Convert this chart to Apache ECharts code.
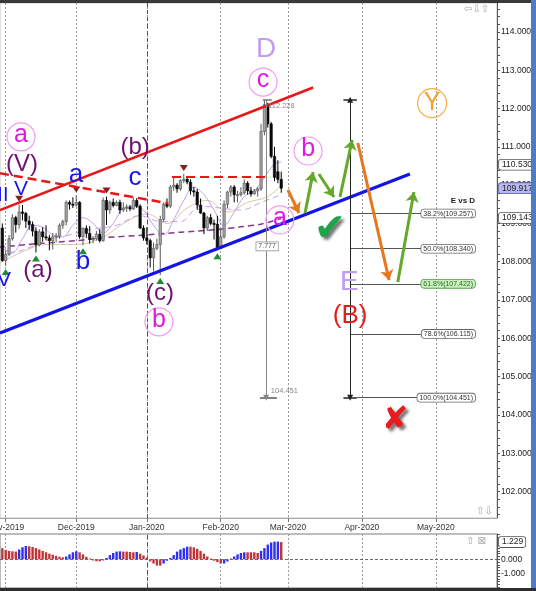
<!DOCTYPE html>
<html><head><meta charset="utf-8">
<script src="https://cdn.jsdelivr.net/npm/echarts@6/dist/echarts.min.js"></script>
<style>html,body{margin:0;padding:0;background:#fff}#c{width:536px;height:591px}</style>
</head><body><div id="c"></div>
<script>
// ---------------- DATA ----------------
const monthNames  = ['Nov-2019','Dec-2019','Jan-2020','Feb-2020','Mar-2020','Apr-2020','May-2020'];
const monthStarts = [0, 21, 42, 64, 84, 106, 128];        // trading-day index of each month start
const firstBar = -1;                                       // index of the first candle (31 Oct 2019)
const opens  = [108.88,108.03,108.19,108.60,109.15,108.97,109.30,109.26,109.06,108.97,108.80,108.44,108.78,108.65,108.62,108.55,108.65,108.67,108.95,109.05,109.55,109.50,109.48,109.55,108.65,108.87,108.74,108.58,108.60,108.72,108.55,109.60,109.35,109.55,109.47,109.55,109.35,109.40,109.42,109.38,109.60,109.45,108.88,108.62,108.55,108.10,108.35,108.45,109.10,109.50,109.45,109.95,110.00,109.90,110.12,110.15,110.08,109.85,109.82,109.48,109.27,108.88,109.15,109.00,108.98,108.35,108.65,109.50,109.82,109.95,109.75,109.75,109.80,110.05,109.85,109.77,109.85,109.90,111.40,112.10,111.60,110.75,110.35,110.15];
const highs  = [109.00,108.30,108.70,109.24,109.20,109.49,109.48,109.30,109.20,109.05,108.90,108.85,108.90,108.95,108.70,108.75,108.75,109.00,109.10,109.60,109.60,109.68,109.73,109.58,108.90,108.95,108.93,108.67,108.80,108.85,109.68,109.70,109.60,109.65,109.60,109.62,109.55,109.50,109.48,109.68,109.66,109.50,108.95,108.90,108.60,108.50,108.60,109.20,109.55,109.65,110.00,110.20,110.05,110.15,110.29,110.20,110.15,109.95,109.90,109.65,109.30,109.20,109.25,109.10,109.20,108.85,109.60,109.85,110.00,110.00,109.85,109.95,110.15,110.10,109.95,109.90,109.95,111.60,112.228,112.15,111.65,111.00,110.65,110.35];
const lows   = [108.00,107.89,108.15,108.55,108.76,108.86,109.08,108.88,108.83,108.66,108.24,108.40,108.52,108.56,108.30,108.32,108.50,108.60,108.86,108.95,109.36,109.40,109.44,108.60,108.43,108.62,108.47,108.48,108.55,108.50,108.52,108.96,109.25,109.42,109.45,109.25,109.30,109.30,109.32,109.35,109.40,108.85,108.55,108.45,107.85,107.75,108.30,107.65,109.05,109.40,109.40,109.85,109.80,109.85,110.05,110.02,109.75,109.70,109.35,109.25,108.72,108.80,108.95,108.58,108.30,108.35,108.60,109.40,109.70,109.55,109.55,109.70,109.75,109.75,109.70,109.75,109.70,109.85,111.30,111.50,110.70,110.10,110.05,109.80];
const closes = [108.03,108.19,108.60,109.15,108.97,109.30,109.26,109.06,108.97,108.80,108.44,108.78,108.65,108.62,108.55,108.65,108.67,108.95,109.05,109.55,109.50,109.48,109.55,108.65,108.87,108.74,108.58,108.60,108.72,108.55,109.60,109.35,109.55,109.47,109.55,109.35,109.40,109.42,109.38,109.60,109.45,108.88,108.62,108.55,108.10,108.35,108.45,109.10,109.50,109.45,109.95,110.00,109.90,110.12,110.15,110.08,109.85,109.82,109.48,109.27,108.88,109.15,109.00,108.98,108.35,108.65,109.50,109.82,109.95,109.75,109.75,109.80,110.05,109.85,109.77,109.85,109.90,111.40,112.10,111.60,110.75,110.20,110.15,109.92];

// oscillator histogram (lower pane), one value per candle; 1 = blue (rising), 0 = red (falling)
const histValues = [0.79,0.67,0.60,0.57,0.55,0.70,0.86,0.95,0.93,0.88,0.80,0.70,0.60,0.50,0.40,0.33,0.25,0.18,0.14,0.20,0.35,0.50,0.57,0.50,0.35,0.18,0.05,-0.08,-0.14,-0.14,-0.08,0.10,0.30,0.45,0.55,0.57,0.55,0.55,0.52,0.50,0.52,0.40,0.28,0.12,-0.15,-0.30,-0.45,-0.45,-0.30,-0.10,0.10,0.30,0.55,0.70,0.80,0.90,0.90,0.85,0.75,0.60,0.40,0.20,0.05,-0.10,-0.20,-0.30,-0.30,-0.15,0.05,0.20,0.35,0.45,0.50,0.50,0.50,0.50,0.45,0.60,0.80,1.05,1.20,1.26,1.26,1.229];
const histRising = [0,0,0,0,0,1,1,1,0,0,0,0,0,0,0,0,0,0,0,1,1,1,1,0,0,0,0,0,0,0,1,1,1,1,1,1,0,0,0,0,1,0,0,0,0,0,0,0,1,1,1,1,1,1,1,1,0,0,0,0,0,0,0,0,0,0,1,1,1,1,1,1,1,0,0,0,0,1,1,1,1,1,1,0];

// moving averages: [barIndex, price]
const maFast = [[-2,108.40],[2,108.25],[5,108.60],[8,108.95],[11,108.90],[14,108.70],[17,108.65],[20,108.95],[23,109.15],[26,109.00],[29,108.75],[32,109.00],[35,109.40],[38,109.45],[41,109.35],[44,108.95],[47,108.70],[50,109.10],[53,109.60],[56,109.95],[59,109.75],[62,109.35],[65,108.95],[68,109.30],[71,109.70],[74,109.85],[77,110.20],[80,110.55],[82,110.60]];
const maMid  = [[-2,108.15],[5,108.30],[12,108.55],[19,108.70],[26,108.85],[33,108.95],[40,109.20],[46,109.05],[52,109.05],[58,109.45],[64,109.40],[70,109.35],[76,109.55],[82,109.75]];
const maSlow = [[-2,108.38],[8,108.46],[21,108.55],[28,108.62],[42,108.70],[52,108.77],[63,108.84],[70,108.91],[76,108.98],[82,109.13]];
const maTan  = [[-2,107.95],[6,108.30],[12,108.45],[20,108.45],[28,108.60],[36,109.05],[42,109.25],[48,109.00],[54,109.40],[60,109.60],[66,109.30],[72,109.55],[78,109.70],[82,110.00]];

// axis ticks
const priceTicks = [102,103,104,105,106,107,108,109,110,111,112,113,114];
const oscTicks   = [-1, 0, 1];
const priceTags  = [110.530, 109.917, 109.143];
const oscTag     = 1.229;

// swing markers [barIndex, price]
const swingLows  = [[0,107.89],[9,108.24],[23,108.43],[46,107.65],[63,108.30]];
const swingHighs = [[4,109.49],[21,109.73],[30,109.70],[53,110.29]];

// fibonacci (E vs D)
const swingTop = 112.228, swingBottom = 104.451;
const fibNames  = ['38.2%','50.0%','61.8%','78.6%','100.0%'];
const fibValues = [109.257,108.340,107.422,106.115,104.451];

// trend lines [i1,p1,i2,p2]
const redTrend    = [-1.696,109.35,91.5,112.548];
const redDashed   = [-1.696,110.308,48.4,109.525];
const redFlat     = [49.5,110.23,78.7,110.23];
const blueTrend   = [-1.696,106.14,120.3,110.29];
// projected path arrows [i1,p1,i2,p2]
const orangeArrows = [[84.0,109.872,87.3,109.272],[104.8,111.10,114.1,107.52]];
const greenArrows  = [[89.1,109.27,91.5,110.34],[93.2,110.29,97.7,109.69],[99.5,109.69,103.1,111.18],[116.7,107.47,121.5,109.82]];
// measuring tools (bar index of the vertical)
const measureA = 77.5, measureB = 102.5;

// wave labels [barIndex, price, text]
const circledMagenta = [[4.55,111.26,'a'],[45.6,106.43,'b'],[76.6,112.69,'c'],[90.0,110.89,'b'],[81.6,109.09,'a']];
const circledOrange  = [[126.9,112.14,'Y']];
const purpleLabels   = [[4.85,110.53,'(V)'],[9.6,107.78,'(a)'],[38.5,110.99,'(b)'],[45.9,107.18,'(c)']];
const blueLabels     = [[20.9,110.21,'a'],[23.0,107.94,'b'],[38.5,110.13,'c']];
const blueCaps       = [[4.55,109.90,'V'],[-0.5,107.52,'V']];
const lavenderLabels = [[77.5,113.54,'D'],[102.3,107.47,'E']];
const redLabels      = [[102.5,106.58,'(B)']];

// ---------------- CHART ----------------
const X_MIN = -1.696, X_MAX = 146.22;
const candleData = opens.map((o, k) => [firstBar + k, o, highs[k], lows[k], closes[k]]);
const histData = histValues.map((v, k) => ({value: [firstBar + k, v], itemStyle: {color: histRising[k] ? '#2f2ff2' : '#c23434'}}));
const minorPriceTicks = []; for (let t = 101.4; t < 114.75; t += 0.2) minorPriceTicks.push(+t.toFixed(1));
const minorOscTicks = []; for (let t = -2.0; t < 1.8; t += 0.2) minorOscTicks.push(+t.toFixed(1));

const FONT = 'Liberation Sans, Arial, sans-serif';
const TRANSP = 'rgba(0,0,0,0)';

function seg(a, style) { return {coords: [[a[0], a[1]], [a[2], a[3]]], lineStyle: Object.assign({opacity: 1, curveness: 0}, style)}; }
function labelSeries(items, style, extra) {
  return Object.assign({
    type: 'scatter', z: 20, silent: true, symbolSize: 1, itemStyle: {color: TRANSP, opacity: 1},
    data: items.map(a => ({value: [a[0], a[1]], label: Object.assign({show: true, position: 'inside', formatter: a[2]}, style)}))
  }, extra || {});
}

const fibLabelItems = fibNames.map((n, k) => [139.7, fibValues[k], n + '(' + fibValues[k].toFixed(3) + ')']);
const fibBox = {fontSize: 7, color: '#333', fontFamily: FONT, backgroundColor: '#fff', borderColor: '#666', borderWidth: 0.8, borderRadius: 3, padding: [1, 2, 0, 2], align: 'right'};

function tag(v, text, fill, border) {
  return {yAxis: v, lineStyle: {color: TRANSP, width: 1, opacity: 1}, label: {show: true, position: 'end', distance: 2, formatter: text, fontSize: 8.5, fontFamily: FONT, color: '#222', backgroundColor: fill, borderColor: border, borderWidth: 0.8, borderRadius: 2, padding: [1, 2, 0, 3]}};
}

const option = {
  animation: false,
  backgroundColor: '#fff',
  grid: [
    {left: 0, right: 39, top: 3, bottom: 73, show: true, borderColor: '#c4c4c4', borderWidth: 1, containLabel: false, outerBoundsMode: 'none'},
    {left: 0, right: 39, top: 534, bottom: 3, show: true, borderColor: '#7a7a7a', borderWidth: 1, containLabel: false, outerBoundsMode: 'none'}
  ],
  xAxis: [
    {gridIndex: 0, type: 'value', min: X_MIN, max: X_MAX, position: 'bottom',
     axisLine: {show: true, onZero: false, lineStyle: {color: '#a8a8a8'}},
     axisTick: {show: true, customValues: monthStarts, length: 4, lineStyle: {color: '#777'}},
     axisLabel: {show: true, customValues: monthStarts, formatter: v => monthNames[monthStarts.indexOf(Math.round(v))], fontSize: 8.5, fontFamily: FONT, color: '#333', margin: 5},
     splitLine: {show: true, lineStyle: {color: '#9a9a9a', type: [2, 2], width: 1}}},
    {gridIndex: 1, type: 'value', min: X_MIN, max: X_MAX,
     axisLine: {show: false}, axisTick: {show: false, customValues: monthStarts}, axisLabel: {show: false},
     splitLine: {show: true, lineStyle: {color: '#9a9a9a', type: [2, 2], width: 1}}}
  ],
  yAxis: [
    {gridIndex: 0, type: 'value', position: 'right', min: 101.308, max: 114.755,
     axisLine: {show: true, onZero: false, lineStyle: {color: '#555'}},
     axisTick: {show: true, customValues: minorPriceTicks, length: 3, lineStyle: {color: '#555'}},
     axisLabel: {show: true, customValues: priceTicks, formatter: v => v.toFixed(3), fontSize: 8.5, fontFamily: FONT, color: '#222', margin: 4},
     splitLine: {show: false}},
    {gridIndex: 1, type: 'value', position: 'right', min: -2.05, max: 1.807,
     axisLine: {show: true, onZero: false, lineStyle: {color: '#555'}},
     axisTick: {show: true, customValues: minorOscTicks, length: 3, lineStyle: {color: '#555'}},
     axisLabel: {show: true, customValues: oscTicks, formatter: v => v.toFixed(3), fontSize: 8.5, fontFamily: FONT, color: '#222', margin: 4},
     splitLine: {show: false}}
  ],
  series: [
    // moving averages
    {type: 'line', data: maTan, showSymbol: false, smooth: 0.4, silent: true, lineStyle: {color: '#d8c89c', width: 1}, z: 1},
    {type: 'line', data: maMid, showSymbol: false, smooth: 0.4, silent: true, lineStyle: {color: '#c29ff0', width: 1, type: [6, 4]}, z: 1},
    {type: 'line', data: maFast, showSymbol: false, smooth: 0.4, silent: true, lineStyle: {color: '#c29ff0', width: 1}, z: 1},
    {type: 'line', data: maSlow, showSymbol: false, smooth: 0.3, silent: true, lineStyle: {color: '#87358c', width: 1.5, type: [6, 4]}, z: 1},
    // candles
    {type: 'custom', data: candleData, encode: {x: 0, y: [1, 2, 3, 4]}, clip: true, z: 3, silent: true,
     renderItem: (params, api) => {
       const i = api.value(0), o = api.value(1), h = api.value(2), l = api.value(3), c = api.value(4);
       const pO = api.coord([i, o]), pC = api.coord([i, c]), pH = api.coord([i, h]), pL = api.coord([i, l]);
       const up = c >= o, w = 2.4;
       const top = Math.min(pO[1], pC[1]), hh = Math.max(Math.abs(pO[1] - pC[1]), 1);
       return {type: 'group', children: [
         {type: 'line', shape: {x1: pH[0], y1: pH[1], x2: pL[0], y2: pL[1]}, style: {stroke: up ? '#5a5a5a' : '#000', lineWidth: 1}},
         {type: 'rect', shape: {x: pO[0] - w / 2, y: top, width: w, height: hh}, style: {fill: up ? '#a4a4a4' : '#0a0a0a', stroke: up ? '#505050' : '#000', lineWidth: 0.6}}
       ]};
     },
     markLine: {silent: true, symbol: ['none', 'none'], animation: false,
       data: [
         {xAxis: monthStarts[2], lineStyle: {color: '#555', type: [4, 3], width: 1, opacity: 1}, label: {show: false}},
         tag(priceTags[0], priceTags[0].toFixed(3), '#fff', '#555'),
         tag(priceTags[1], priceTags[1].toFixed(3), '#b9b9f2', '#5a5aa8'),
         tag(priceTags[2], priceTags[2].toFixed(3), '#fff', '#555')
       ]}},
    // swing markers
    {type: 'scatter', data: swingLows, symbol: 'triangle', symbolSize: [8, 6], symbolOffset: [0, 6], itemStyle: {color: '#1f8c34', opacity: 1}, silent: true, z: 4},
    {type: 'scatter', data: swingHighs, symbol: 'triangle', symbolRotate: 180, symbolSize: [8, 6], symbolOffset: [0, -6], itemStyle: {color: '#8c1c1c', opacity: 1}, silent: true, z: 4},
    // trend lines
    {type: 'lines', coordinateSystem: 'cartesian2d', silent: true, z: 6, data: [
      seg(redTrend, {color: '#e81616', width: 2.5}),
      seg(redDashed, {color: '#e81616', width: 2.5, type: [9, 5]}),
      seg(redFlat, {color: '#e81616', width: 2, type: [9, 5]}),
      seg(blueTrend, {color: '#1414e6', width: 3.2})
    ]},
    // measuring tools
    {type: 'lines', coordinateSystem: 'cartesian2d', silent: true, z: 6, symbol: ['none', 'none'], data: [
      seg([measureA - 1.0, swingTop, measureA + 1.7, swingTop], {color: '#777', width: 1.5}),
      seg([measureA - 1.8, swingBottom, measureA + 3.2, swingBottom], {color: '#555', width: 1.5}),
      seg([measureB - 2.0, swingTop, measureB + 2.0, swingTop], {color: '#222', width: 1.5}),
      seg([measureB - 2.0, swingBottom, measureB + 2.0, swingBottom], {color: '#222', width: 1.5})
    ].concat(fibValues.slice(0, 4).map(v => seg([measureB, v, 130, v], {color: '#555', width: 1})))
     .concat([seg([measureB + 2.0, swingBottom, 130, swingBottom], {color: '#555', width: 1})])},
    {type: 'lines', coordinateSystem: 'cartesian2d', silent: true, z: 6, symbol: ['none', 'triangle'], symbolSize: 6, data: [
      seg([measureA, swingTop, measureA, swingBottom], {color: '#888', width: 1})
    ]},
    {type: 'lines', coordinateSystem: 'cartesian2d', silent: true, z: 6, symbol: ['triangle', 'triangle'], symbolSize: 6, data: [
      seg([measureB, swingTop, measureB, swingBottom], {color: '#222', width: 1})
    ]},
    // projected path arrows
    {type: 'lines', coordinateSystem: 'cartesian2d', silent: true, z: 7, symbol: ['none', 'arrow'], symbolSize: 10,
     data: orangeArrows.map(a => seg(a, {color: '#e8761a', width: 3})).concat(greenArrows.map(a => seg(a, {color: '#66a82a', width: 3})))},
    // fibonacci labels
    labelSeries(fibLabelItems.filter((a, k) => k !== 2), fibBox),
    labelSeries([fibLabelItems[2]], Object.assign({}, fibBox, {backgroundColor: '#c9efbd', borderColor: '#5a9a50', color: '#2b6b2b'})),
    labelSeries([[139.7, 109.60, 'E vs D']], {fontSize: 8, fontWeight: 'bold', color: '#222', fontFamily: FONT, align: 'right'}),
    // measuring labels
    labelSeries([[78.1, 112.08, '112.228'], [78.9, 104.62, '104.451']], {fontSize: 7.5, color: '#888', fontFamily: FONT, align: 'left'}),
    labelSeries([[77.8, 108.40, '7.777']], {fontSize: 7, color: '#555', fontFamily: FONT, backgroundColor: '#fff', borderColor: '#999', borderWidth: 0.8, padding: [1, 2, 0, 2]}),
    // circled wave labels
    {type: 'scatter', z: 19, silent: true, symbol: 'circle', symbolSize: 28,
     itemStyle: {color: TRANSP, borderColor: '#f29cf2', borderWidth: 1.2, opacity: 1},
     data: circledMagenta.map(a => ({value: [a[0], a[1]], label: {show: true, position: 'inside', formatter: a[2], fontSize: 25, color: '#e416e4', fontFamily: FONT, offset: [0, -2]}}))},
    {type: 'scatter', z: 19, silent: true, symbol: 'circle', symbolSize: 29,
     itemStyle: {color: TRANSP, borderColor: '#f5ab48', borderWidth: 1.2, opacity: 1},
     data: circledOrange.map(a => ({value: [a[0], a[1]], label: {show: true, position: 'inside', formatter: a[2], fontSize: 25, color: '#f2a028', fontFamily: FONT}}))},
    labelSeries(purpleLabels, {fontSize: 24, color: '#6e1270', fontFamily: FONT}),
    labelSeries(blueLabels, {fontSize: 26, color: '#1616e8', fontFamily: FONT, offset: [0, -2]}),
    labelSeries(blueCaps, {fontSize: 21, color: '#1616e8', fontFamily: FONT}),
    labelSeries([[0.83, 109.74, 'II']], {fontSize: 20, color: '#1616e8', fontFamily: FONT, align: 'right'}),
    labelSeries(lavenderLabels, {fontSize: 28, color: '#c29cf0', fontFamily: FONT}),
    labelSeries(redLabels, {fontSize: 26, color: '#e41c1c', fontFamily: FONT}),
    labelSeries([[96.5, 108.83, '\u2714']], {fontSize: 38, color: '#1ea446', fontFamily: 'DejaVu Sans', textShadowColor: 'rgba(0,0,0,0.55)', textShadowBlur: 3, textShadowOffsetX: 3, textShadowOffsetY: 3}),
    labelSeries([[115.9, 103.84, '\u2718']], {fontSize: 32, color: '#e81c1c', fontFamily: 'DejaVu Sans', textShadowColor: 'rgba(0,0,0,0.55)', textShadowBlur: 3, textShadowOffsetX: 3, textShadowOffsetY: 3}),
    // oscillator histogram
    {type: 'bar', xAxisIndex: 1, yAxisIndex: 1, barWidth: 2.4, data: histData, silent: true,
     markLine: {silent: true, symbol: ['none', 'none'], animation: false, data: [
       {yAxis: 0, lineStyle: {color: '#6a6a6a', type: [3, 2], width: 1, opacity: 1}, label: {show: false}},
       {xAxis: monthStarts[2], lineStyle: {color: '#555', type: [4, 3], width: 1, opacity: 1}, label: {show: false}},
       tag(oscTag, oscTag.toFixed(3), '#fff', '#555')
     ]}}
  ],
  graphic: [
    {type: 'rect', shape: {x: 0, y: 0, width: 536, height: 3}, style: {fill: '#3a3a3a'}, z: 100},
    {type: 'rect', shape: {x: 531, y: 0, width: 5, height: 591}, style: {fill: '#4a7cca'}, z: 100},
    {type: 'rect', shape: {x: 0, y: 588, width: 536, height: 3}, style: {fill: '#2e2e2e'}, z: 100},
    {type: 'text', x: 464, y: 4, style: {text: '\u21E6\u21E9\u21E7', fill: '#a8a8a8', font: '10px DejaVu Sans'}, z: 100},
    {type: 'text', x: 476, y: 506, style: {text: '\u21E7\u21E9', fill: '#a8a8a8', font: '10px DejaVu Sans'}, z: 100},
    {type: 'text', x: 466, y: 536, style: {text: '\u21E7 \u22A0', fill: '#a8a8a8', font: '10px DejaVu Sans'}, z: 100}
  ]
};

const chart = echarts.init(document.getElementById('c'), null, {renderer: 'canvas'});
chart.setOption(option);
</script>
</body></html>
